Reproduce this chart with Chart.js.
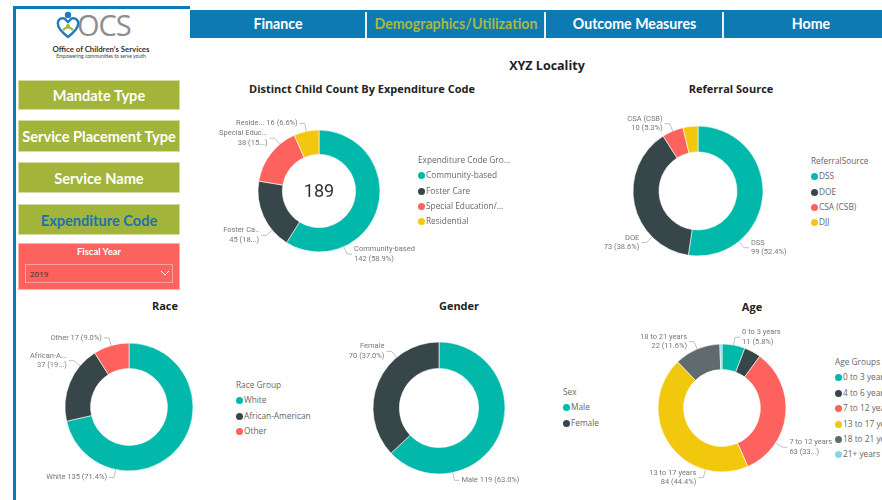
<!DOCTYPE html>
<html>
<head>
<meta charset="utf-8">
<script src="https://cdn.jsdelivr.net/npm/chart.js@4.4.1/dist/chart.umd.min.js"></script>
<style>
  body { margin: 0; width: 882px; height: 500px; overflow: hidden; background: #fff; position: relative; font-family: Lato, "Open Sans", sans-serif; }
  .abs { position: absolute; }
  .frame { left: 13px; top: 6px; width: 177px; height: 494px; border-left: 3px solid #0e7ab4; border-top: 3px solid #0e7ab4; box-sizing: border-box; }
  .nav { left: 190px; top: 10px; width: 700px; height: 28px; background: #0e7ab4; }
  .nav div { position: absolute; top: 0; height: 28px; line-height: 28px; color: #fff; font-weight: 700; font-size: 14.2px; text-align: center; white-space: nowrap; }
  .nav .sep { width: 2px; background: #e8f1f7; top: 2px; height: 26px; }
  .btn { left: 18px; width: 162px; background: #a2b43a; border: 1px solid #d4dca4; box-sizing: border-box; color: #fff; font-weight: 700; font-size: 14.6px; text-align: center; white-space: nowrap; }
  .fy { left: 18px; top: 243px; width: 162px; height: 47px; background: #fd625e; border: 1px solid #fdb0ad; box-sizing: border-box; }
  .title { font-family: "Open Sans", sans-serif; font-weight: 700; color: #222; text-align: center; white-space: nowrap; }
  .legend { font-family: "Open Sans", sans-serif; font-size: 8.3px; color: #666; white-space: nowrap; }
  .legend .item { position: absolute; left: 0; height: 10px; line-height: 10px; }
  .legend .dot { display: inline-block; width: 7px; height: 7px; border-radius: 50%; vertical-align: -1px; margin-right: 1px; }
  canvas { position: absolute; }
</style>
</head>
<body>

<!-- frame + logo -->
<div class="abs frame"></div>
<svg class="abs" style="left:56px;top:11px" width="24" height="28" viewBox="0 0 24 28">
  <circle cx="12" cy="4" r="3.2" fill="#1f7bbf"/>
  <path d="M12 26 C4 20 1 15 2 11 C3 7 8 6 10 9 L12 11 L14 9 C16 6 21 7 22 11 C23 15 20 20 12 26 Z" fill="none" stroke="#1f7bbf" stroke-width="2.4"/>
  <path d="M7 19 Q12 14 17 19" fill="none" stroke="#a2b43a" stroke-width="2.2"/>
  <circle cx="12" cy="15" r="2" fill="#a2b43a"/>
</svg>
<div class="abs" style="left:77px;top:9px;font-family:'Open Sans',sans-serif;font-size:29px;color:#8d8d8d;letter-spacing:-1px;line-height:32px">OCS</div>
<div class="abs" style="left:46px;top:44px;width:110px;text-align:center;font-size:7.8px;font-weight:700;color:#333;white-space:nowrap">Office of Children’s Services</div>
<div class="abs" style="left:46px;top:53px;width:110px;text-align:center;font-size:5px;color:#444;white-space:nowrap">Empowering communities to serve youth</div>

<!-- nav -->
<div class="abs nav">
  <div style="left:0;width:176px">Finance</div>
  <div class="sep" style="left:175px"></div>
  <div style="left:177px;width:178px;color:#a8b83c">Demographics/Utilization</div>
  <div class="sep" style="left:354px"></div>
  <div style="left:356px;width:177px">Outcome Measures</div>
  <div class="sep" style="left:532px"></div>
  <div style="left:534px;width:174px">Home</div>
</div>

<!-- slicer buttons -->
<div class="abs btn" style="top:80px;height:30px;line-height:30px">Mandate Type</div>
<div class="abs btn" style="top:120px;height:32px;line-height:32px">Service Placement Type</div>
<div class="abs btn" style="top:162px;height:31px;line-height:31px">Service Name</div>
<div class="abs btn" style="top:204px;height:31px;line-height:31px;color:#1c72ad">Expenditure Code</div>
<div class="abs fy">
  <div style="position:absolute;left:0;top:2px;width:160px;text-align:center;color:#fff;font-weight:700;font-size:9.5px">Fiscal Year</div>
  <div style="position:absolute;left:6px;top:20px;width:148px;height:19px;border:1px solid #fca3a0;box-sizing:border-box;font-family:'Open Sans',sans-serif;font-size:8px;color:#333;line-height:17px;padding-left:4px">2019</div>
  <svg style="position:absolute;left:141px;top:26px" width="10" height="7"><polyline points="1,1 5,5 9,1" fill="none" stroke="#fff" stroke-width="1"/></svg>
</div>

<div class="abs title" style="left:447px;top:57px;width:200px;font-size:12.5px">XYZ Locality</div>

<div class="abs title" style="left:212px;top:81px;width:300px;font-size:11px">Distinct Child Count By Expenditure Code</div>
<div class="abs title" style="left:631px;top:81px;width:200px;font-size:11px">Referral Source</div>
<div class="abs title" style="left:65px;top:298px;width:200px;font-size:11px">Race</div>
<div class="abs title" style="left:359px;top:298px;width:200px;font-size:11px">Gender</div>
<div class="abs title" style="left:652px;top:299px;width:200px;font-size:11px">Age</div>

<canvas id="expChart"></canvas>
<canvas id="refChart"></canvas>
<canvas id="raceChart"></canvas>
<canvas id="genderChart"></canvas>
<canvas id="ageChart"></canvas>

<div id="expLegend" class="abs legend"></div>
<div id="refLegend" class="abs legend"></div>
<div id="raceLegend" class="abs legend"></div>
<div id="genderLegend" class="abs legend"></div>
<div id="ageLegend" class="abs legend"></div>

<script>
// data (FY 2019)
const expCategories = ['Community-based', 'Foster Care', 'Special Education/...', 'Residential'];
const expValues = [142, 45, 38, 16];
const expLabels = [['Community-based', '142 (58.9%)'], ['Foster Ca..', '45 (18...)'], ['Special Educ...', '38 (15...)'], ['Reside... 16 (6.6%)']];
const expDistinctCount = 189;

const refCategories = ['DSS', 'DOE', 'CSA (CSB)', 'DJJ'];
const refValues = [99, 73, 10, 7];
const refLabels = [['DSS', '99 (52.4%)'], ['DOE', '73 (38.6%)'], ['CSA (CSB)', '10 (5.3%)'], null];

const raceCategories = ['White', 'African-American', 'Other'];
const raceValues = [135, 37, 17];
const raceLabels = [['White 135 (71.4%)'], ['African-A...', '37 (19...)'], ['Other 17 (9.0%)']];

const genderCategories = ['Male', 'Female'];
const genderValues = [119, 70];
const genderLabels = [['Male 119 (63.0%)'], ['Female', '70 (37.0%)']];

const ageCategories = ['0 to 3 years', '4 to 6 years', '7 to 12 years', '13 to 17 years', '18 to 21 years', '21+ years'];
const ageValues = [11, 8, 63, 84, 22, 1];
const ageLabels = [['0 to 3 years', '11 (5.8%)'], null, ['7 to 12 years', '63 (33...)'], ['13 to 17 years', '84 (44.4%)'], ['18 to 21 years', '22 (11.6%)'], null];

// Power BI default palette
const palette = ['#01B8AA', '#374649', '#FD625E', '#F2C80F', '#5F6B6D', '#8AD4EB'];

// outside labels with leader lines
const calloutPlugin = {
  id: 'callouts',
  afterDatasetsDraw(chart, args, opts) {
    const meta = chart.getDatasetMeta(0);
    const ctx = chart.ctx;
    ctx.save();
    ctx.font = '7.5px Roboto';
    ctx.textBaseline = 'middle';
    meta.data.forEach((arc, i) => {
      const lines = opts.lines[i];
      if (!lines) return;
      const { x, y, outerRadius, startAngle, endAngle } = arc.getProps(['x', 'y', 'outerRadius', 'startAngle', 'endAngle'], true);
      let a = (startAngle + endAngle) / 2;
      if (opts.angles && opts.angles[i] != null) a = (opts.angles[i] - 90) * Math.PI / 180;
      const px = x + outerRadius * Math.cos(a), py = y + outerRadius * Math.sin(a);
      const ex = x + (outerRadius + 8) * Math.cos(a), ey = y + (outerRadius + 8) * Math.sin(a);
      const side = ex >= x ? 1 : -1;
      const hx = ex + side * 5;
      ctx.strokeStyle = '#b0b0b0';
      ctx.lineWidth = 0.8;
      ctx.beginPath();
      ctx.moveTo(px, py);
      ctx.lineTo(ex, ey);
      ctx.lineTo(hx, ey);
      ctx.stroke();
      ctx.fillStyle = '#777';
      ctx.textAlign = side > 0 ? 'left' : 'right';
      const lh = 9.5;
      const y0 = ey - (lines.length - 1) * lh / 2;
      lines.forEach((t, k) => ctx.fillText(t, hx + side * 2, y0 + k * lh));
    });
    if (opts.centerText) {
      ctx.font = '18px Roboto';
      ctx.fillStyle = '#333';
      ctx.textAlign = 'center';
      const arc = meta.data[0];
      ctx.fillText(opts.centerText, arc.x, arc.y + 1);
    }
    ctx.restore();
  }
};

function renderDonut(id, box, values, labels, angles, centerText) {
  const canvas = document.getElementById(id);
  canvas.width = box.w;
  canvas.height = box.h;
  canvas.style.left = box.left + 'px';
  canvas.style.top = box.top + 'px';
  return new Chart(canvas, {
    type: 'doughnut',
    data: {
      labels: values.map((v, i) => i),
      datasets: [{
        data: values,
        backgroundColor: palette.slice(0, values.length),
        borderColor: '#fff',
        borderWidth: 0.6,
        radius: box.r,
        cutout: '60%'
      }]
    },
    options: {
      responsive: false,
      animation: false,
      events: [],
      layout: {
        padding: {
          left: box.cx - box.left - box.r,
          right: box.left + box.w - box.cx - box.r,
          top: box.cy - box.top - box.r,
          bottom: box.top + box.h - box.cy - box.r
        }
      },
      plugins: {
        legend: { display: false },
        tooltip: { enabled: false },
        callouts: { lines: labels, angles: angles, centerText: centerText }
      }
    },
    plugins: [calloutPlugin]
  });
}

function renderLegend(id, left, top, title, categories, rowGap) {
  const el = document.getElementById(id);
  el.style.left = left + 'px';
  el.style.top = top + 'px';
  let html = `<div class="item" style="top:0">${title}</div>`;
  categories.forEach((c, i) => {
    html += `<div class="item" style="top:${(i + 1) * rowGap}px"><span class="dot" style="background:${palette[i]}"></span>${c}</div>`;
  });
  el.innerHTML = html;
}

renderDonut('expChart', { left: 200, top: 100, w: 225, h: 180, cx: 319, cy: 191, r: 61 }, expValues, expLabels, [156, 230, 320, null], String(expDistinctCount));
renderDonut('refChart', { left: 590, top: 100, w: 210, h: 180, cx: 698, cy: 191, r: 65 }, refValues, refLabels, [141, 225, null, null]);
renderDonut('raceChart', { left: 20, top: 320, w: 200, h: 175, cx: 129, cy: 407, r: 64 }, raceValues, raceLabels, [192, 310, null]);
renderDonut('genderChart', { left: 330, top: 320, w: 220, h: 175, cx: 439, cy: 408, r: 66 }, genderValues, genderLabels, [168, 320]);
renderDonut('ageChart', { left: 620, top: 320, w: 215, h: 175, cx: 722, cy: 408, r: 64 }, ageValues, ageLabels, [null, null, 123, 195, null, null]);

renderLegend('expLegend', 418, 155, 'Expenditure Code Gro...', expCategories, 15.3);
renderLegend('refLegend', 811, 156, 'ReferralSource', refCategories, 15.3);
renderLegend('raceLegend', 236, 380, 'Race Group', raceCategories, 15.3);
renderLegend('genderLegend', 563, 387, 'Sex', genderCategories, 15.3);
renderLegend('ageLegend', 835, 357, 'Age Groups', ageCategories, 15.4);
</script>
</body>
</html>
